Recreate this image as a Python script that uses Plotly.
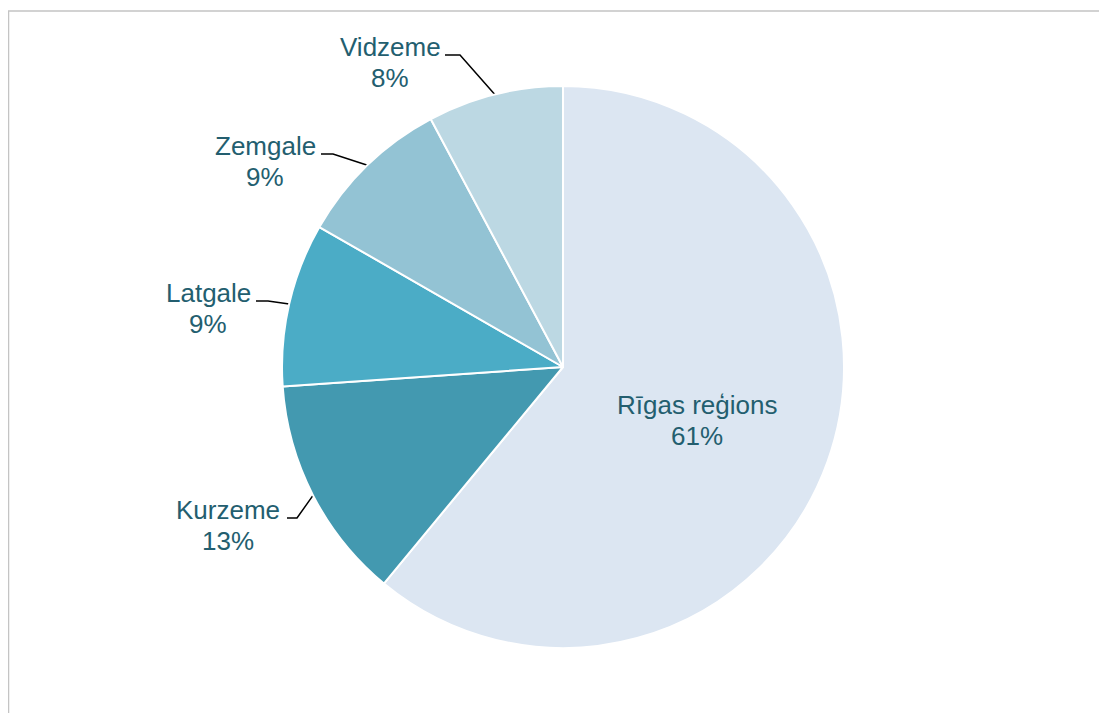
import math

import plotly.graph_objects as go

# ── Data ─────────────────────────────────────────────────────────────────────
regions = ["Rīgas reģions", "Kurzeme", "Latgale", "Zemgale", "Vidzeme"]
shares  = [61.0, 12.9, 9.4, 8.9, 7.8]
labels_pct = ["61%", "13%", "9%", "9%", "8%"]

# ── Design tokens ─────────────────────────────────────────────────────────────
OFF         = 8            # page body margin compensation
W, H        = 1107 - OFF, 713 - OFF
_TEXT       = "#235E6F"
_FRAME      = "#C4C4C4"
_FONT       = "Liberation Sans, Arial, sans-serif"
_FSIZE      = 26
_LINE_GAP   = 31           # distance between label lines
_COLORS     = ["#DCE6F2", "#4399B0", "#4BACC6", "#93C3D4", "#BCD8E3"]

# pie geometry in (reference) pixels
CX, CY, R = 563, 367, 281

# label placement (pixels): label centre, elbow and end of the leader line
LABEL_POS = {
    "Rīgas reģions": dict(xy=(697, 420)),
    "Kurzeme": dict(xy=(228, 525), elbow=(297, 518), end=(287, 518)),
    "Latgale": dict(xy=(208, 308), elbow=(268, 301), end=(256, 301)),
    "Zemgale": dict(xy=(265, 161), elbow=(333, 154), end=(321, 154)),
    "Vidzeme": dict(xy=(390, 62), elbow=(460, 55), end=(445, 55)),
}


def px(x):
    return x - OFF


fig = go.Figure()

fig.add_trace(go.Pie(
    labels=regions,
    values=shares,
    sort=False,
    direction="clockwise",
    rotation=0,
    textinfo="none",
    hoverinfo="label+percent",
    marker=dict(colors=_COLORS, line=dict(color="white", width=2)),
    domain=dict(
        x=[px(CX - R) / W, px(CX + R) / W],
        y=[1 - px(CY + R) / H, 1 - px(CY - R) / H],
    ),
    showlegend=False,
))

# ── Leader lines from slice mid-angles ────────────────────────────────────────
total = sum(shares)
cum = 0.0
for name, val, pct in zip(regions, shares, labels_pct):
    mid = (cum + val / 2) / total * 2 * math.pi
    cum += val
    pos = LABEL_POS[name]
    if "elbow" in pos:
        ex = CX + R * math.sin(mid)
        ey = CY - R * math.cos(mid)
        fig.add_trace(go.Scatter(
            x=[px(ex), px(pos["elbow"][0]), px(pos["end"][0])],
            y=[px(ey), px(pos["elbow"][1]), px(pos["end"][1])],
            mode="lines", line=dict(color="black", width=1.5),
            hoverinfo="skip", showlegend=False,
        ))
    lx, ly = pos["xy"]
    for txt, dy in ((name, -_LINE_GAP / 2), (pct, _LINE_GAP / 2)):
        fig.add_annotation(
            x=px(lx), y=px(ly + dy), xref="x", yref="y",
            text=txt, showarrow=False,
            xanchor="center", yanchor="middle",
            font=dict(family=_FONT, size=_FSIZE, color=_TEXT),
        )

fig.update_layout(
    width=W, height=H,
    margin=dict(l=0, r=0, t=0, b=0),
    paper_bgcolor="white", plot_bgcolor="rgba(0,0,0,0)",
    xaxis=dict(range=[0, W], visible=False, fixedrange=True, domain=[0, 1]),
    yaxis=dict(range=[H, 0], visible=False, fixedrange=True, domain=[0, 1]),
    shapes=[dict(
        type="rect", xref="x", yref="y",
        x0=px(8.5), y0=px(11), x1=W + 10, y1=H + 10,
        line=dict(color=_FRAME, width=1.5), layer="below",
    )],
)

fig.write_html("out.html")
